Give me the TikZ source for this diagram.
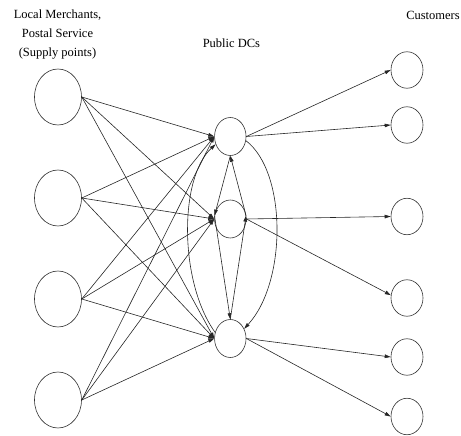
\documentclass[tikz,border=0pt]{standalone}
\usepackage{fontspec}
\setmainfont{Liberation Serif}
\usetikzlibrary{shapes.geometric,arrows.meta}
\begin{document}
\begin{tikzpicture}[x=1pt,y=-1pt,
  lbl/.style={font=\fontsize{12.5}{19}\selectfont, inner sep=0pt, anchor=base},
  src/.style={ellipse, draw=black!80, line width=0.6pt, minimum width=47pt, minimum height=56pt, inner sep=0pt},
  dc/.style={ellipse, draw=black!80, line width=0.6pt, minimum width=31.5pt, minimum height=38pt, inner sep=0pt},
  cust/.style={ellipse, draw=black!80, line width=0.6pt, minimum width=32pt, minimum height=36.5pt, inner sep=0pt},
  arr/.style={draw=black!85, line width=0.6pt, -{Triangle[length=6pt,width=3.6pt]}},
  ]
\useasboundingbox (0,0) rectangle (461,436);
% labels
\node[lbl] (t1) at (57.5,19) {Local Merchants,};
\node[lbl] (t2) at (57.5,38) {Postal Service};
\node[lbl] (t3) at (57.5,57) {(Supply points)};
\node[lbl] (t4) at (231.4,48) {Public DCs};
\node[lbl] (t5) at (433,20) {Customers};
% supply points
\node[src] (s1) at (58,97) {};
\node[src] (s2) at (58,198) {};
\node[src] (s3) at (58,299) {};
\node[src] (s4) at (58,400) {};
% DCs
\node[dc] (d1) at (230.3,136.5) {};
\node[dc] (d2) at (230.3,219) {};
\node[dc] (d3) at (230.3,338.5) {};
% customers
\node[cust] (c1) at (407,70) {};
\node[cust] (c2) at (407,125) {};
\node[cust] (c3) at (407,216.5) {};
\node[cust] (c4) at (407,298) {};
\node[cust] (c5) at (407,357) {};
\node[cust] (c6) at (407,416.5) {};
% supply -> DC
\foreach \s in {s1,s2,s3,s4}{
  \foreach \d in {d1,d2,d3}{
    \draw[arr] (\s.east) -- (\d.west);
  }
}
% DC <-> DC
\draw[arr] (d1.south) -- (d2.168);
\draw[arr] (d2.12) -- (d1.south);
\draw[arr] (d2.168) -- (d3.north);
\draw[arr] (d3.north) -- (d2.12);
\draw[arr] (d3.158) .. controls (179,282) and (179,178) .. (d1.208);
\draw[arr] (d1.-15) .. controls (287,172) and (287,282) .. (d3.35);
% DC -> customers
\draw[arr] (d1.east) -- (c1.west);
\draw[arr] (d1.east) -- (c2.west);
\draw[arr] (d2.east) -- (c3.west);
\draw[arr] (d2.east) -- (c4.170);
\draw[arr] (d3.east) -- (c5.west);
\draw[arr] (d3.east) -- (c6.west);
\end{tikzpicture}
\end{document}
